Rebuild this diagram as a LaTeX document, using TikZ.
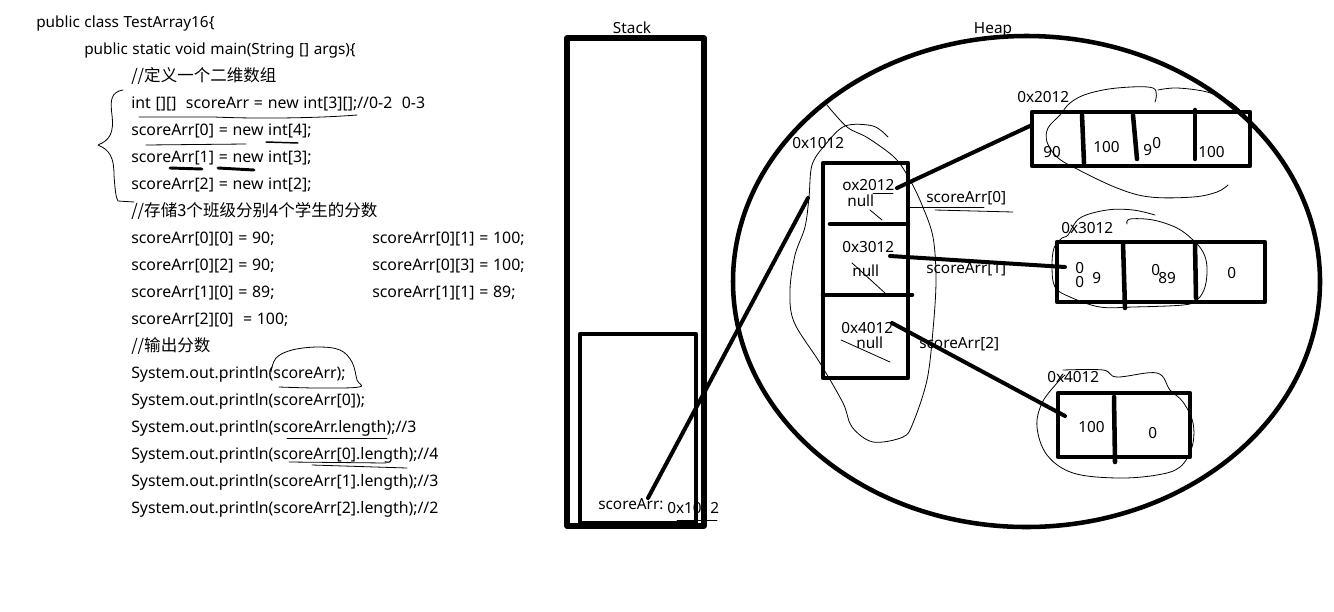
\documentclass[tikz,border=0pt]{standalone}
\usepackage{fontspec}
\setmainfont{Noto Sans}[WordSpace=1.15]
\newfontfamily\cjk{Noto Sans CJK SC}
\begin{document}
\begin{tikzpicture}[x=0.75pt,y=-0.75pt,line join=round,line cap=round]
	\tikzset{every node/.style={font=\fontsize{11.5}{13}\selectfont,inner sep=0pt},
		code/.style={anchor=base west},
		src/.style={anchor=base west,font=\fontsize{11.9}{13}\selectfont},
		box/.style={line width=3.4pt},
		wire/.style={line width=3pt},
		pen/.style={line width=0.6pt},
		marker/.style={line width=2.2pt}}
	\def\dy{27}
	\useasboundingbox (0,0) rectangle (1334,611);
	% source code
	\node[code] (head) at (36,27) {public class TestArray16\{};
	\node[code] (main) at (84,54) {public static void main(String [] args)\{};
	\foreach \txt [count=\k from 2] in {
		{\cjk\fontsize{12.4}{14}\selectfont //定义一个二维数组},
		{int [][]\ \ scoreArr = new int[3][];//0-2\ \ 0-3},
		{scoreArr[0] = new int[4];},
		{scoreArr[1] = new int[3];},
		{scoreArr[2] = new int[2];},
		{\cjk\fontsize{12.4}{14}\selectfont //存储3个班级分别4个学生的分数},
		{scoreArr[0][0] = 90;},
		{scoreArr[0][2] = 90;},
		{scoreArr[1][0] = 89;},
		{scoreArr[2][0]\ \ = 100;},
		{\cjk\fontsize{12.4}{14}\selectfont //输出分数},
		{System.out.println(scoreArr);},
		{System.out.println(scoreArr[0]);},
		{System.out.println(scoreArr.length);//3},
		{System.out.println(scoreArr[0].length);//4},
		{System.out.println(scoreArr[1].length);//3},
		{System.out.println(scoreArr[2].length);//2}}
	\node[src] (code\k) at (131,{27+\dy*\k}) {\txt};
	\foreach \txt [count=\k from 8] in {
		{scoreArr[0][1] = 100;},
		{scoreArr[0][3] = 100;},
		{scoreArr[1][1] = 89;}}
	\node[src] (right\k) at (372,{27+\dy*\k}) {\txt};
	% pen marks on the code
	\draw[pen] (123,90) .. controls (111,92) and (110,100) .. (112,115)
		.. controls (114,133) and (110,140) .. (98,145)
		.. controls (110,150) and (114,158) .. (114,175)
		.. controls (115,190) and (116,198) .. (118,201) -- (134,202);
	\draw[pen] (139,117) -- (214,117) .. controls (260,119) and (320,118) .. (357,115);
	\draw[pen] (146,145) -- (246,144);
	\draw[pen,line width=1.1pt] (266,142) -- (298,143);
	\draw[marker] (170,168) -- (202,169);
	\draw[marker] (218,168) -- (254,170);
	\draw[pen] plot[smooth,tension=0.6] coordinates {(271,372) (276,358) (292,350) (318,347) (340,350) (352,362) (357,380) (359,387) (318,388) (279,387)};
	\draw[pen] (287,438) -- (387,438);
	\draw[pen] (289,462) -- (386,463);
	\draw[pen] (312,465) -- (407,468);
	% stack
	\node (stacklbl) at (632,28) {Stack};
	\draw[box,line width=3.8pt] (567,38) rectangle (704,526);
	\draw[box] (580,334) rectangle (696,523);
	\node[code] (svar) at (598,509) {scoreArr:};
	\node[code] (sval) at (667,513) {0x1012};
	\draw[pen] (677,520) -- (717,520);
	% heap
	\node (heaplbl) at (993,30) {Heap};
	\draw[box] (1026.5,281.5) ellipse [x radius=293.5, y radius=245.5];
	% outer array
	\draw[box] (823,163) rectangle (908,378);
	\draw[box] (830,224) -- (908,224);
	\draw[box] (823,295) -- (912,295);
	\node[code] (addr1) at (792,148) {0x1012};
	\node[code] (ref0) at (842,190) {ox2012};
	\node[code] (nul0) at (847,206) {null};
	\node[code] (ref1) at (842,252) {0x3012};
	\node[code] (nul1) at (852,276) {null};
	\node[code] (ref2) at (841,333) {0x4012};
	\node[code] (nul2) at (856,348) {null};
	\node[code] (idx0) at (926,202) {scoreArr[0]};
	\node[code] (idx1) at (926,273) {scoreArr[1]};
	\node[code] (idx2) at (919,348) {scoreArr[2]};
	\draw[pen] (873,193) -- (893,193);
	\draw[pen] (870,210) -- (882,220);
	\draw[pen] (852,263) -- (885,293);
	\draw[pen] (841,340) -- (890,362);
	\draw[pen] (910,207) -- (984,207);
	\draw[pen] (935,210) -- (1013,212);
	\draw[pen] plot[smooth,tension=0.55] coordinates {(888,137) (873,126) (845,126) (825,145) (812,165) (809,197) (805,227) (795,255) (790,290) (794,322) (820,363) (843,403) (852,427) (873,442) (903,437) (913,423) (927,380) (933,330) (936,280) (933,237) (922,205) (910,180) (895,158) (868,138) (847,127) (827,105)};
	% array 0x2012
	\node[code] (addr2) at (1017,102) {0x2012};
	\draw[box] (1032,112) rectangle (1250,166);
	\draw[box] (1082,115) -- (1084,163);
	\draw[box] (1133,115) -- (1137,159);
	\draw[box] (1195,110) -- (1195,159);
	\node[code] (a00) at (1043,157) {90};
	\node[code] (a01) at (1093,152) {100};
	\node[code] (a02) at (1143,155) {9};
	\node[code] (a02b) at (1152,148) {0};
	\node[code] (a03) at (1198,157) {100};
	\draw[pen] plot[smooth,tension=0.6] coordinates {(1155,102) (1153,88) (1117,88) (1087,94) (1070,103) (1060,115) (1048,128) (1047,142) (1057,157) (1075,168) (1117,188) (1150,197) (1193,197) (1217,192) (1228,185)};
	\draw[pen] plot[smooth,tension=0.6] coordinates {(1158,90) (1177,88) (1207,92) (1230,102) (1247,117)};
	% array 0x3012
	\node[code] (addr3) at (1061,233) {0x3012};
	\draw[box] (1057,242) rectangle (1265,302);
	\draw[box] (1123,243) -- (1125,308);
	\draw[box] (1195,243) -- (1196,298);
	\node[code] (b00) at (1075,273) {0};
	\node[code] (b00b) at (1075,287) {0};
	\node[code] (b00c) at (1092,283) {9};
	\node[code] (b01) at (1151,275) {0};
	\node[code] (b01b) at (1158,283) {89};
	\node[code] (b02) at (1227,278) {0};
	\draw[pen] plot[smooth,tension=0.6] coordinates {(1155,215) (1133,210) (1107,210) (1080,218) (1068,235) (1062,238) (1054,248) (1052,267) (1055,287) (1070,297) (1100,307) (1133,307) (1183,305) (1197,300) (1205,287) (1207,267) (1203,252) (1193,240) (1177,228) (1153,220) (1130,219) (1127,224)};
	% array 0x4012
	\node[code] (addr4) at (1047,382) {0x4012};
	\draw[box] (1058,393) rectangle (1190,457);
	\draw[box] (1114,397) -- (1115,462);
	\node[code] (c00) at (1078,432) {100};
	\node[code] (c01) at (1148,438) {0};
	\draw[pen] plot[smooth,tension=0.6] coordinates {(1063,370) (1103,370) (1117,377) (1157,373) (1170,390) (1183,402) (1193,423) (1192,447) (1180,467) (1157,475) (1117,478) (1073,473) (1047,455) (1037,427) (1042,403) (1057,383) (1065,375)};
	% references
	\coordinate (sTip) at (648,498);
	\coordinate (hTip) at (808,198);
	\coordinate (r0) at (897,188);
	\coordinate (r1) at (890,256);
	\coordinate (r2) at (892,323);
	\coordinate (arrA) at (1032,125);
	\coordinate (arrB) at (1065,267);
	\coordinate (arrC) at (1065,416);
	\draw[wire] (sTip) -- (hTip);
	\draw[wire] (r0) -- (arrA);
	\draw[wire] (r1) -- (arrB);
	\draw[wire] (r2) -- (arrC);
\end{tikzpicture}
\end{document}
